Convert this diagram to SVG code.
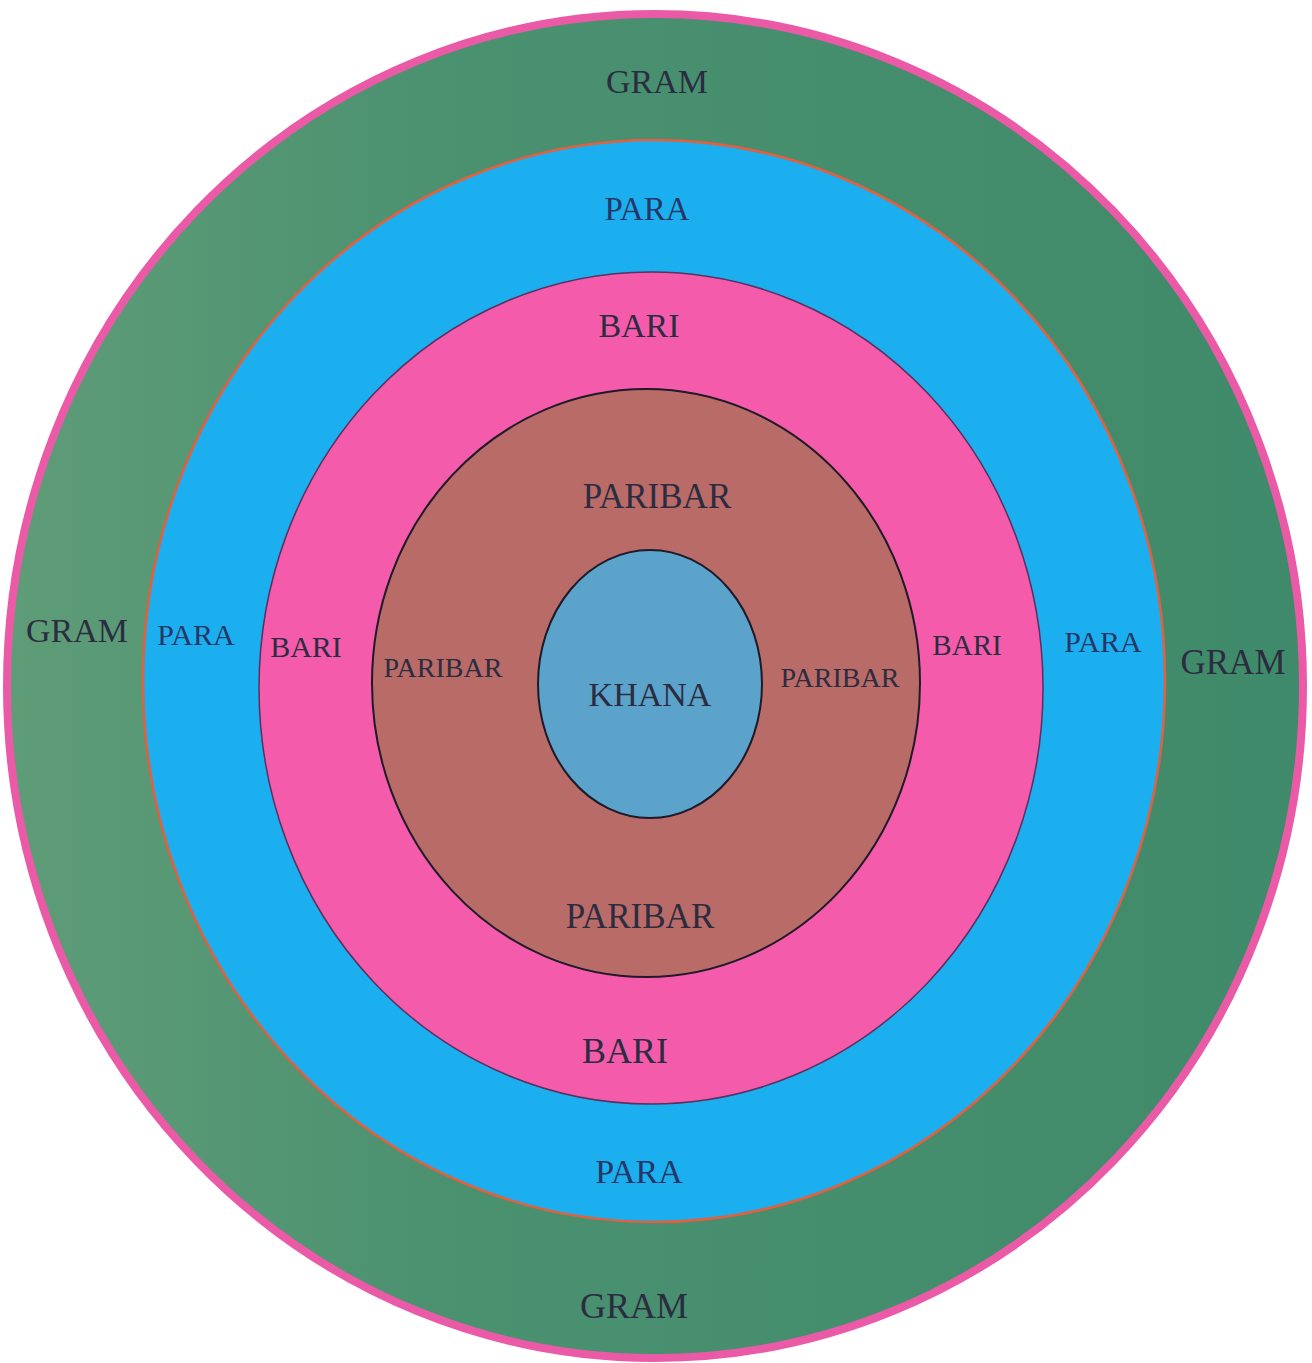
<svg xmlns="http://www.w3.org/2000/svg" width="1312" height="1363" viewBox="0 0 1312 1363">
  <defs>
    <linearGradient id="greenGrad" x1="0" y1="0" x2="1" y2="0">
      <stop offset="0" stop-color="#5f9c78"/>
      <stop offset="0.35" stop-color="#4a9170"/>
      <stop offset="1" stop-color="#3f8a6a"/>
    </linearGradient>
    <style>
      .lbl { font-family: "Liberation Serif", "Times New Roman", serif; text-anchor: middle; fill: #2c2c40; }
      .lblBlue { fill: #243766; }
    </style>
  </defs>
  <rect x="0" y="0" width="1312" height="1363" fill="#ffffff"/>

  <g id="gram">
    <ellipse cx="655" cy="686" rx="648" ry="672" fill="url(#greenGrad)" stroke="#ea5aa6" stroke-width="8"/>
    <text class="lbl" x="657" y="93" font-size="34">GRAM</text>
    <text class="lbl" x="77" y="642" font-size="34">GRAM</text>
    <text class="lbl" x="1233" y="674" font-size="35">GRAM</text>
    <text class="lbl" x="634" y="1318" font-size="36">GRAM</text>
  </g>

  <g id="para">
    <ellipse cx="654" cy="681" rx="511" ry="541" fill="#1caff0" stroke="#e2603e" stroke-width="2.5"/>
    <text class="lbl lblBlue" x="647" y="220" font-size="33">PARA</text>
    <text class="lbl lblBlue" x="196" y="645" font-size="30">PARA</text>
    <text class="lbl lblBlue" x="1103" y="652" font-size="30">PARA</text>
    <text class="lbl lblBlue" x="639" y="1183" font-size="34">PARA</text>
  </g>

  <g id="bari">
    <ellipse cx="651" cy="688" rx="392" ry="416" fill="#f45cab" stroke="#5a3060" stroke-width="1.5"/>
    <text class="lbl" x="639" y="337" font-size="34">BARI</text>
    <text class="lbl" x="306" y="657" font-size="30">BARI</text>
    <text class="lbl" x="967" y="655" font-size="29">BARI</text>
    <text class="lbl" x="625" y="1063" font-size="36">BARI</text>
  </g>

  <g id="paribar">
    <ellipse cx="646" cy="683" rx="274" ry="294" fill="#b96b68" stroke="#1e1a28" stroke-width="2"/>
    <text class="lbl" x="657" y="508" font-size="35">PARIBAR</text>
    <text class="lbl" x="443" y="677" font-size="28">PARIBAR</text>
    <text class="lbl" x="840" y="687" font-size="28">PARIBAR</text>
    <text class="lbl" x="640" y="928" font-size="35">PARIBAR</text>
  </g>

  <g id="khana">
    <ellipse cx="650" cy="684" rx="112" ry="134" fill="#5ba3ca" stroke="#1e1a28" stroke-width="2"/>
    <text class="lbl" x="650" y="706" font-size="34">KHANA</text>
  </g>

  <g id="connectors"></g>
</svg>
